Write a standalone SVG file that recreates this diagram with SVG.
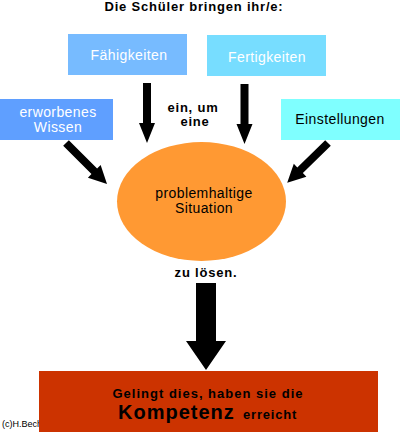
<svg xmlns="http://www.w3.org/2000/svg" width="400" height="432" viewBox="0 0 400 432">
<style>
text{font-family:"Liberation Sans",Arial,sans-serif}
.b{font-weight:bold;font-size:13px;letter-spacing:0.8px;fill:#000}
.w{font-size:14px;letter-spacing:0.4px;fill:#fff}
.k{font-size:14px;letter-spacing:0.4px;fill:#000}
.arr{fill:#000}
</style>
<rect width="400" height="432" fill="#fff"/>
<text class="b" x="194" y="11" text-anchor="middle">Die Schüler bringen ihr/e:</text>
<g id="faehigkeiten"><rect x="68" y="34" width="119" height="41" fill="#77BBFF"/><text class="w" x="129" y="60" text-anchor="middle">Fähigkeiten</text></g>
<g id="fertigkeiten"><rect x="207" y="35" width="119" height="41" fill="#77DDFF"/><text class="w" x="267" y="62" text-anchor="middle">Fertigkeiten</text></g>
<g id="wissen"><rect x="0" y="99" width="113" height="41" fill="#5F9FFF"/><text class="w" x="58" y="117" text-anchor="middle">erworbenes</text><text class="w" x="58" y="132" text-anchor="middle">Wissen</text></g>
<g id="einstellungen"><rect x="281" y="99" width="119" height="41" fill="#7FFFFF"/><text class="k" x="340" y="124" text-anchor="middle">Einstellungen</text></g>
<g id="situation"><ellipse cx="201.5" cy="201.5" rx="84.5" ry="59.5" fill="#FF9933"/><text class="k" x="204" y="198" text-anchor="middle">problemhaltige</text><text class="k" x="204" y="213" text-anchor="middle">Situation</text></g>
<text class="b" x="193" y="112" text-anchor="middle">ein, um</text>
<text class="b" x="195" y="126" text-anchor="middle">eine</text>
<text class="b" x="206" y="277" text-anchor="middle">zu lösen.</text>
<text x="2" y="427" font-size="9" fill="#000">(c)H.Bech</text>
<g id="kompetenz"><rect x="39" y="371" width="339" height="61" fill="#CC3300"/><text class="b" x="208" y="398" text-anchor="middle" style="letter-spacing:1px">Gelingt dies, haben sie die</text><text x="118" y="419" font-weight="bold" font-size="20" letter-spacing="1">Kompetenz</text><text class="b" x="243" y="419">erreicht</text></g>
<g id="connectors">
<polygon class="arr" points="143,83 151,83 151,123 155,123 147,143 139,123 143,123"/>
<polygon class="arr" points="240.5,84 248.5,84 248.5,124 252.5,124 244.5,144 236.5,124 240.5,124"/>
<polygon class="arr" points="0,-4 40,-4 40,-9 58,0 40,9 40,4 0,4" transform="translate(66,143) rotate(45)"/>
<polygon class="arr" points="0,-4 39,-4 39,-9 57,0 39,9 39,4 0,4" transform="translate(328,143) rotate(135.7)"/>
<polygon class="arr" points="196,283 216,283 216,341 226,341 206,370 186,341 196,341"/>
</g>
</svg>
